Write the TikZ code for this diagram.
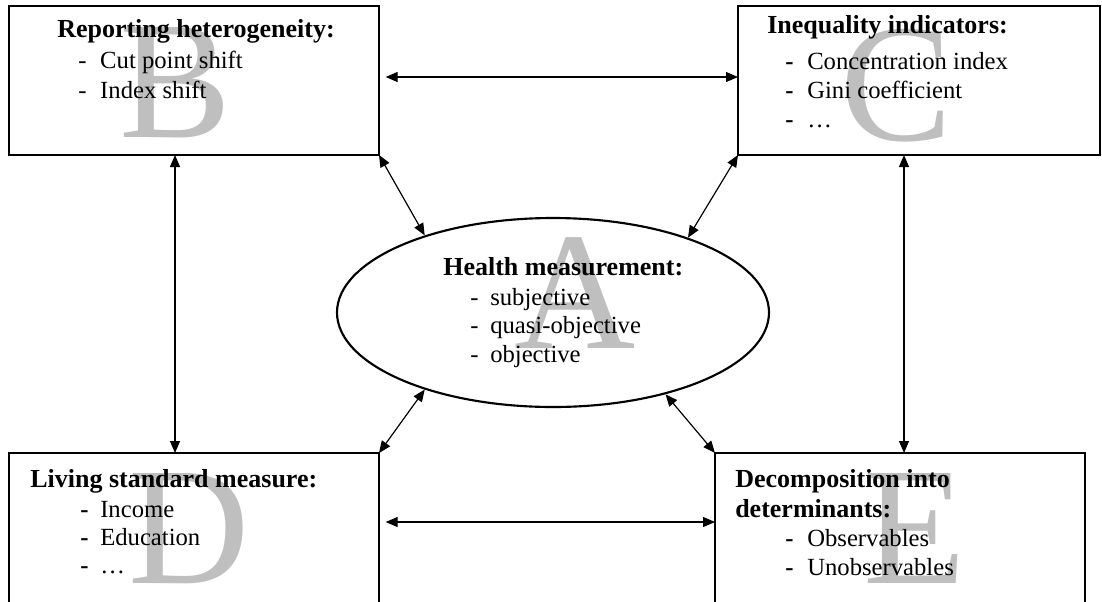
\documentclass[tikz,border=0pt]{standalone}
\usepackage{fontspec}
\setmainfont{Liberation Serif}
\usetikzlibrary{shapes.geometric, arrows.meta, positioning, fit}

\begin{document}
\begin{tikzpicture}[x=0.75pt, y=-0.75pt,
    factor/.style={rectangle, draw, line width=0.9pt, inner sep=0pt, outer sep=0pt},
    hub/.style={ellipse, draw, line width=1.6pt, inner sep=0pt, minimum width=324pt, minimum height=141.75pt},
    heading/.style={anchor=base west, inner sep=0pt, font=\fontsize{19.5}{22}\selectfont\bfseries},
    item/.style={anchor=base west, inner sep=0pt, font=\fontsize{18.5}{22}\selectfont},
    bigletter/.style={anchor=base, inner sep=0pt, text=black!25, font=\fontsize{126}{126}\selectfont},
    link/.style={{Triangle[length=9pt,width=7.5pt]}-{Triangle[length=9pt,width=7.5pt]}, line width=0.9pt}
]
    \useasboundingbox (0,0) rectangle (1102,601);
    \fill[white] (0,0) rectangle (1102,601);
    \clip (0,0) rectangle (1102,601);

    % Boxes and centre
    \node[factor, fit={(9,6) (379,155)}] (boxB) {};
    \node[factor, fit={(738,6) (1100,155)}] (boxC) {};
    \node[factor, fit={(9,453) (379,620)}] (boxD) {};
    \node[factor, fit={(715,453) (1085,620)}] (boxE) {};
    \node[hub] (health) at (553,312.5) {};

    % Watermark letters
    \node[bigletter] (letA) at (575,348) {A};
    \node[bigletter] (letB) at (176,137) {B};
    \node[bigletter] (letC) at (897,140) {C};
    \node[bigletter] (letD) at (189,583) {D};
    \node[bigletter] (letE) at (915,583) {E};

    % Reporting heterogeneity
    \node[heading] (Bt) at (57,37) {Reporting heterogeneity:};
    \node[item] (B1) at (78,68) {\makebox[16.5pt][l]{-}Cut point shift};
    \node[item] (B2) at (78,98) {\makebox[16.5pt][l]{-}Index shift};

    % Inequality indicators
    \node[heading] (Ct) at (767,33) {Inequality indicators:};
    \node[item] (C1) at (785,69) {\makebox[16.5pt][l]{\textbf{-}}Concentration index};
    \node[item] (C2) at (785,98) {\makebox[16.5pt][l]{\textbf{-}}Gini coefficient};
    \node[item] (C3) at (785,127) {\makebox[16.5pt][l]{\textbf{-}}\dots};

    % Living standard
    \node[heading] (Dt) at (30,487) {Living standard measure:};
    \node[item] (D1) at (80,517) {\makebox[15pt][l]{\textbf{-}}Income};
    \node[item] (D2) at (80,545) {\makebox[15pt][l]{\textbf{-}}Education};
    \node[item] (D3) at (80,573) {\makebox[15pt][l]{\textbf{-}}\dots};

    % Decomposition
    \node[heading] (Et1) at (735,487) {Decomposition into};
    \node[heading] (Et2) at (735,517) {determinants:};
    \node[item] (E1) at (785,546) {\makebox[16.5pt][l]{\textbf{-}}Observables};
    \node[item] (E2) at (785,575) {\makebox[16.5pt][l]{\textbf{-}}Unobservables};

    % Health measurement
    \node[heading] (At) at (443,275) {Health measurement:};
    \node[item] (A1) at (470,305) {\makebox[15pt][l]{-}subjective};
    \node[item] (A2) at (470,333) {\makebox[15pt][l]{-}quasi-objective};
    \node[item] (A3) at (470,362) {\makebox[15pt][l]{-}objective};

    % Links
    \draw[link] ([xshift=5pt,yshift=-53.25pt]boxB.north east) -- ([yshift=-53.25pt]boxC.north west);
    \draw[link] ([xshift=5pt,yshift=-51.75pt]boxD.north east) -- ([yshift=-51.75pt]boxE.north west);
    \draw[link] ([xshift=124.5pt]boxB.south west) -- ([xshift=124.5pt]boxB.south west |- boxD.north);
    \draw[link] ([xshift=124.5pt]boxC.south west) -- ([xshift=124.5pt]boxC.south west |- boxE.north);
    \draw[link] (boxB.south east) -- (health.149);
    \draw[link] (boxC.south west) -- (health.29);
    \draw[link] (boxD.north east) -- (health.211);
    \draw[link] (boxE.north west) -- (health.324);
\end{tikzpicture}
\end{document}
